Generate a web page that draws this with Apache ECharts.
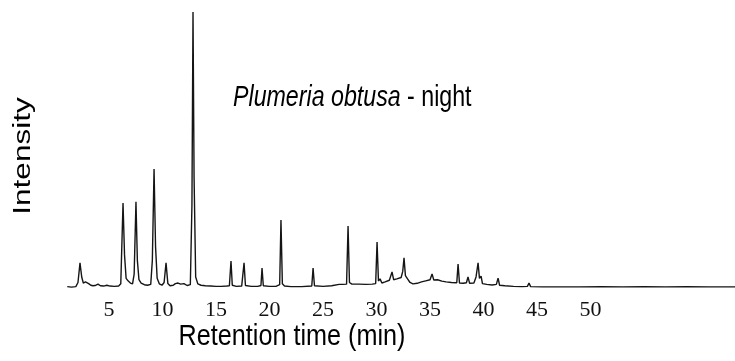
<!DOCTYPE html>
<html>
<head>
<meta charset="utf-8">
<script src="https://cdn.jsdelivr.net/npm/echarts@6/dist/echarts.min.js"></script>
<style>
html,body{margin:0;padding:0;background:#fff;}
#chart{width:735px;height:361px;}
</style>
</head>
<body>
<div id="chart"></div>
<script>
// Retention time (min) of each trace point
var retentionTime = [
  1.10,1.50,1.90,2.10,2.29,2.45,2.60,2.80,2.94,3.10,3.30,3.50,3.70,3.97,4.20,4.50,4.80,5.10,5.50,5.90,
  6.10,6.31,6.45,6.60,6.80,7.00,7.20,7.35,7.52,7.65,7.80,8.00,8.30,8.60,8.90,9.05,9.21,9.35,9.50,9.70,
  9.95,10.15,10.33,10.50,10.70,11.00,11.20,11.45,11.70,12.00,12.30,12.60,12.75,12.85,12.95,13.10,13.30,13.60,14.00,14.50,
  15.00,15.50,16.00,16.25,16.40,16.52,16.90,17.40,17.50,17.62,17.75,18.30,18.90,19.20,19.30,19.42,20.00,20.60,20.95,21.07,
  21.20,21.40,22.00,23.00,23.95,24.07,24.20,25.00,25.80,26.50,26.68,26.85,27.20,27.34,27.47,27.70,28.05,28.18,28.35,29.00,
  29.60,29.92,30.05,30.18,30.33,30.50,30.80,31.20,31.45,31.60,31.90,32.30,32.45,32.57,32.70,32.90,33.13,33.40,33.80,34.20,
  34.60,35.00,35.19,35.35,35.70,36.10,36.50,37.00,37.50,37.62,37.75,38.10,38.40,38.55,38.70,39.10,39.30,39.49,39.62,39.77,
  39.90,40.30,40.80,41.20,41.36,41.50,42.00,42.80,43.60,44.10,44.25,44.40,45.50,46.50,47.40,47.52,47.65,49.00,51.00,53.00,
  55.00,57.00,59.00,61.00,63.50
];
// Relative intensity (% of largest peak)
var intensity = [
  0.5,0.3,0.5,2.0,9.1,4.0,1.8,2.2,2.9,1.6,1.0,0.8,0.9,1.4,0.8,0.7,1.0,0.7,0.6,0.7,
  1.5,30.8,12.0,3.5,2.5,1.8,1.5,5.0,31.2,10.0,3.0,1.8,1.2,1.0,1.3,10.0,43.1,15.0,3.5,1.5,
  1.0,2.0,9.1,1.6,0.8,1.0,1.6,1.8,1.4,1.6,0.9,1.2,30.0,100,40.0,4.0,1.5,1.0,0.8,0.7,
  0.6,0.6,0.7,0.8,9.8,1.0,0.6,0.7,1.0,9.1,0.9,0.6,0.6,0.9,7.2,0.8,0.6,0.6,1.2,24.6,
  1.5,0.7,0.5,0.5,0.7,7.2,0.8,0.6,0.8,1.3,1.8,1.3,1.4,22.5,2.0,1.4,1.4,1.8,1.4,1.3,
  1.4,1.6,16.7,2.5,3.3,1.8,2.2,2.8,5.8,3.0,3.3,3.8,6.0,10.9,4.5,3.3,2.0,1.5,1.7,2.2,
  2.6,3.0,5.1,2.9,3.0,2.5,2.2,2.0,1.9,8.7,1.8,1.7,1.9,4.0,1.7,1.8,4.0,9.1,3.5,4.3,
  1.6,1.3,1.1,1.3,3.6,1.0,0.8,0.6,0.5,0.6,1.8,0.5,0.4,0.4,0.4,0.9,0.4,0.4,0.5,0.4,
  0.5,0.4,0.5,0.4,0.4
];
var tickLabels = [5,10,15,20,25,30,35,40,45,50];
var xAxisTitle = 'Retention time (min)';
var yAxisTitle = 'Intensity';
var speciesName = 'Plumeria obtusa';
var sampleTime = ' - night';

var points = retentionTime.map(function(t,i){ return [t, intensity[i]]; });

var chart = echarts.init(document.getElementById('chart'), null, {renderer:'canvas'});
chart.setOption({
  animation: false,
  backgroundColor: '#ffffff',
  grid: { left: 55.5, right: 0, top: 12, bottom: 73, containLabel: false },
  xAxis: {
    type: 'value', min: 0, max: 63.5, interval: 5,
    axisLine: { show: false }, axisTick: { show: false }, splitLine: { show: false },
    axisLabel: {
      margin: 11,
      fontFamily: '"Liberation Serif", "Times New Roman", serif',
      fontSize: 22, color: '#111',
      showMaxLabel: false,
      formatter: function(v){ return tickLabels.indexOf(v) >= 0 ? String(v) : ''; }
    }
  },
  yAxis: {
    type: 'value', min: 0, max: 100,
    axisLine: { show: false }, axisTick: { show: false }, splitLine: { show: false },
    axisLabel: { show: false }
  },
  series: [{
    type: 'line', data: points, symbol: 'none', sampling: false,
    lineStyle: { color: '#151515', width: 1.4 }
  }],
  graphic: [
    { type: 'text', x: 292, y: 337, scaleX: 0.84, scaleY: 1,
      style: { text: xAxisTitle, fill: '#000', font: '30px "Liberation Sans", Arial, sans-serif', align: 'center', verticalAlign: 'middle' } },
    { type: 'text', x: 23, y: 156, rotation: Math.PI/2, scaleX: 1.05, scaleY: 0.8,
      style: { text: yAxisTitle, fill: '#000', font: '30px "Liberation Sans", Arial, sans-serif', align: 'center', verticalAlign: 'middle' } },
    { type: 'text', x: 233, y: 98, scaleX: 0.8, scaleY: 1,
      style: { text: '{i|' + speciesName + '}' + sampleTime, fill: '#000',
        font: '29px "Liberation Sans", Arial, sans-serif', align: 'left', verticalAlign: 'middle',
        rich: { i: { fontStyle: 'italic', fontSize: 29, fontFamily: '"Liberation Sans", Arial, sans-serif', fill: '#000' } } } }
  ]
});
</script>
</body>
</html>
